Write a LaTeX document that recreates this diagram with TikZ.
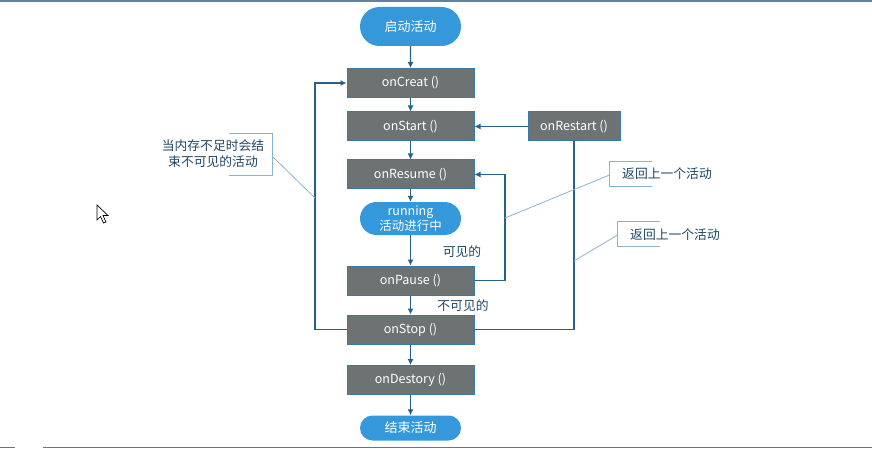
\documentclass[tikz,border=0pt]{standalone}
\usepackage{fontspec}
\setmainfont{Noto Sans CJK SC}
\usetikzlibrary{arrows.meta,shapes.misc}
\definecolor{stad}{RGB}{52,152,219}
\definecolor{boxfill}{RGB}{109,114,114}
\definecolor{boxedge}{RGB}{58,120,168}
\definecolor{conn}{RGB}{38,96,140}
\definecolor{lbl}{RGB}{31,70,100}
\definecolor{call}{RGB}{138,178,210}
\definecolor{topline}{RGB}{100,130,160}
\begin{document}
\begin{tikzpicture}[x=1pt,y=-1pt,
  stadium/.style={rounded rectangle, fill=stad, draw=none, text=white, minimum width=101pt, font=\fontsize{13}{15}\selectfont, align=center, inner sep=0pt},
  fbox/.style={rectangle, fill=boxfill, draw=boxedge, line width=1pt, text=white, minimum width=127pt, minimum height=29pt, font=\fontsize{12.5}{14}\selectfont, inner sep=0pt},
  conn/.style={draw=conn, line width=1.1pt},
  arr/.style={conn, -{Latex[length=6pt,width=6pt]}},
  calltxt/.style={text=lbl, font=\fontsize{12.8}{16}\selectfont, align=center, inner sep=0pt},
  callline/.style={draw=call, line width=0.8pt}
]
\useasboundingbox (0,0) rectangle (872,449);
\draw[topline, line width=1.5pt] (0,1) -- (872,1);
\draw[gray!90!black, line width=1.2pt] (0,447.5) -- (15,447.5) (43,447.5) -- (872,447.5);

\node[stadium, minimum height=39pt] (start) at (410.5,26.5) {启动活动};
\node[fbox] (create) at (410.5,83) {onCreat ()};
\node[fbox] (startn) at (410.5,126.5) {onStart ()};
\node[fbox, minimum width=92pt] (restart) at (574,126.5) {onRestart ()};
\node[fbox] (resume) at (410.5,174.5) {onResume ()};
\node[stadium, minimum height=33pt, font=\fontsize{12.5}{14.5}\selectfont] (run) at (410.5,218.5) {running\\活动进行中};
\node[fbox] (pause) at (410.5,280.5) {onPause ()};
\node[fbox] (stop) at (410.5,329.5) {onStop ()};
\node[fbox] (destroy) at (410.5,380) {onDestory ()};
\node[stadium, minimum height=25pt] (finish) at (410.5,428) {结束活动};

\draw[arr] (start) -- (create);
\draw[arr] (create) -- (startn);
\draw[arr] (startn) -- (resume);
\draw[arr] (resume) -- (run);
\draw[arr] (run) -- (pause);
\draw[arr] (pause) -- (stop);
\draw[arr] (stop) -- (destroy);
\draw[arr] (destroy) -- (finish);
\draw[arr] (restart) -- (startn);

\coordinate (lb) at (315,329.5);
\coordinate (lt) at (315,83);
\draw[arr] (stop.west) -- (lb) -- (lt) -- (create.west);
\coordinate (rb) at (505,280.5);
\coordinate (rt) at (505,174.5);
\draw[arr] (pause.east) -- (rb) -- (rt) -- (resume.east);
\coordinate (sb) at (574,329.5);
\draw[conn] (stop.east) -- (sb) -- (restart.south);

\node[text=lbl, font=\fontsize{12.8}{14}\selectfont, inner sep=0pt] (vis) at (462,252) {可见的};
\node[text=lbl, font=\fontsize{12.8}{14}\selectfont, inner sep=0pt] (invis) at (463,306) {不可见的};

% callout left
\node[calltxt] (c1) at (213,154) {当内存不足时会结\\束不可见的活动};
\draw[callline] (229,133.5) -- (272,133.5) -- (272,175.5) -- (229,175.5);
\coordinate (c1a) at (272,156);
\coordinate (c1b) at (315,198);
\draw[callline] (c1a) -- (c1b);

% callout right 1
\node[calltxt, anchor=west] (c2) at (622,174) {返回上一个活动};
\draw[callline] (652,161.5) -- (609.5,161.5) -- (609.5,186) -- (652,186);
\coordinate (c2a) at (609.5,175);
\coordinate (c2b) at (505,218);
\draw[callline] (c2a) -- (c2b);

% callout right 2
\node[calltxt, anchor=west] (c3) at (630,235) {返回上一个活动};
\draw[callline] (660,221.5) -- (617.5,221.5) -- (617.5,246) -- (660,246);
\coordinate (c3a) at (617.5,235);
\coordinate (c3b) at (574,261);
\draw[callline] (c3a) -- (c3b);

% mouse cursor
\draw[fill=white, line width=0.7pt, line join=miter] (97,205) -- (97,220) -- (100.5,216.5) -- (103.5,223) -- (106,222) -- (103,215.5) -- (108,215.5) -- cycle;
\end{tikzpicture}
\end{document}
